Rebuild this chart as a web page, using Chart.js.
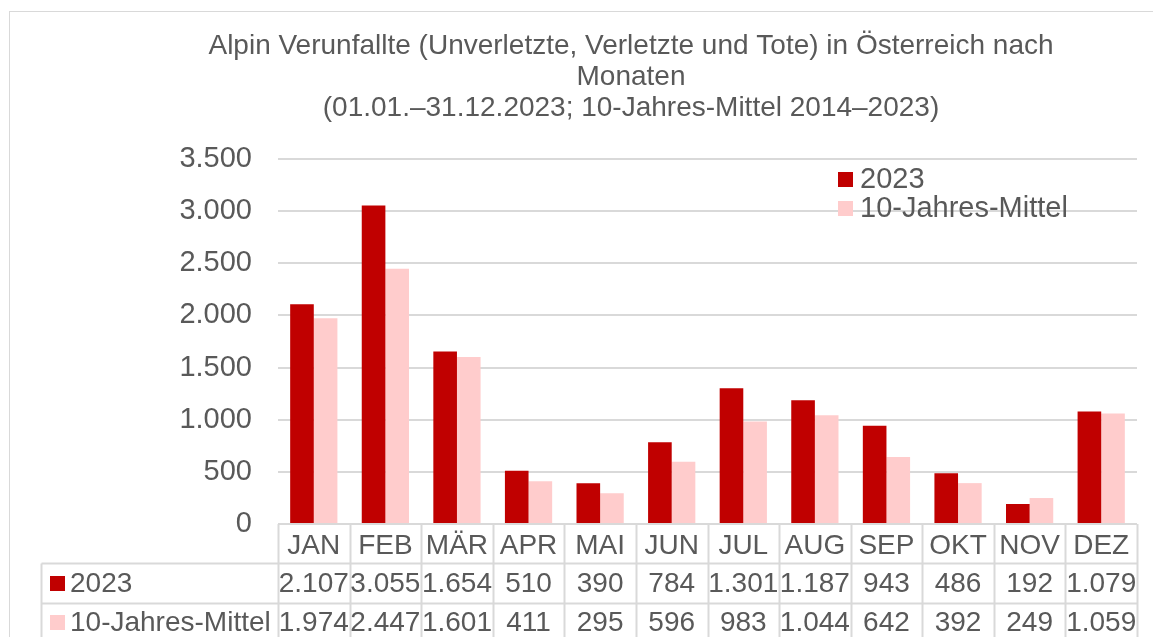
<!DOCTYPE html>
<html>
<head>
<meta charset="utf-8">
<script src="https://cdn.jsdelivr.net/npm/chart.js@4"></script>
<style>
    html, body { margin: 0; padding: 0; background: #fff; }
    #wrap { width: 1153px; height: 637px; }
</style>
</head>
<body>
<div id="wrap"><canvas id="unfallChart" width="1153" height="637"></canvas></div>
<script>
const months = ['JAN', 'FEB', 'MÄR', 'APR', 'MAI', 'JUN', 'JUL', 'AUG', 'SEP', 'OKT', 'NOV', 'DEZ'];
const werte2023 = [2107, 3055, 1654, 510, 390, 784, 1301, 1187, 943, 486, 192, 1079];
const mittel = [1974, 2447, 1601, 411, 295, 596, 983, 1044, 642, 392, 249, 1059];
const yTicks = [0, 500, 1000, 1500, 2000, 2500, 3000, 3500];
const titleLines = [
    'Alpin Verunfallte (Unverletzte, Verletzte und Tote) in Österreich nach',
    'Monaten',
    '(01.01.–31.12.2023; 10-Jahres-Mittel 2014–2023)'
];

const ROT = '#c00000';
const ROSA = '#ffcccc';
const TEXT = '#595959';
const LINIE = '#d9d9d9';
const FONT = '"Liberation Sans", Arial, sans-serif';

const fmt = v => v.toLocaleString('de-DE');

// Titel, Legende, Datentabelle und Rahmen
const extras = {
    id: 'extras',
    afterDraw(chart) {
        const ctx = chart.ctx;
        const area = chart.chartArea;
        const x = chart.scales.x;
        const sets = chart.data.datasets;

        ctx.save();

        // Rahmen
        ctx.strokeStyle = LINIE;
        ctx.lineWidth = 1;
        ctx.strokeRect(9.5, 11.5, 1160, 660);

        // Titel
        ctx.fillStyle = TEXT;
        ctx.font = '28px ' + FONT;
        ctx.textAlign = 'center';
        ctx.textBaseline = 'middle';
        titleLines.forEach((t, i) => ctx.fillText(t, 631, 46 + i * 31));

        // Legende
        ctx.font = '29px ' + FONT;
        ctx.textAlign = 'left';
        sets.forEach((ds, i) => {
            const ly = 180 + i * 29;
            ctx.fillStyle = ds.backgroundColor;
            ctx.fillRect(838, ly - 8, 15, 15);
            ctx.fillStyle = TEXT;
            ctx.fillText(ds.label, 860, ly);
        });

        // Tabelle
        const step = x.getPixelForValue(1) - x.getPixelForValue(0);
        const left = area.left;
        const right = area.right;
        const top = area.bottom;
        const r1 = top + 39.5;
        const r2 = top + 79.5;
        const tabLeft = 41.5;

        ctx.strokeStyle = LINIE;
        ctx.lineWidth = 2;
        ctx.beginPath();
        ctx.moveTo(left, top);
        ctx.lineTo(right, top);
        ctx.moveTo(tabLeft, r1);
        ctx.lineTo(right, r1);
        ctx.moveTo(tabLeft, r2);
        ctx.lineTo(right, r2);
        ctx.moveTo(tabLeft, r1);
        ctx.lineTo(tabLeft, 700);
        for (let i = 0; i <= months.length; i++) {
            const vx = Math.round(x.getPixelForValue(i) - step / 2) + 0.5;
            ctx.moveTo(vx, top);
            ctx.lineTo(vx, 700);
        }
        ctx.stroke();

        ctx.font = '28px ' + FONT;
        ctx.textAlign = 'center';
        months.forEach((m, i) => {
            const cx = x.getPixelForValue(i);
            ctx.fillStyle = TEXT;
            ctx.fillText(m, cx, top + 22);
            sets.forEach((ds, j) => {
                ctx.fillText(fmt(ds.data[i]), cx, top + 60 + j * 39);
            });
        });

        ctx.textAlign = 'left';
        sets.forEach((ds, j) => {
            const ry = top + 60 + j * 39;
            ctx.fillStyle = ds.backgroundColor;
            ctx.fillRect(50, ry - 8, 15, 15);
            ctx.fillStyle = TEXT;
            ctx.fillText(ds.label, 70, ry);
        });

        ctx.restore();
    }
};

new Chart(document.getElementById('unfallChart'), {
    type: 'bar',
    data: {
        labels: months,
        datasets: [
            { label: '2023', data: werte2023, backgroundColor: ROT },
            { label: '10-Jahres-Mittel', data: mittel, backgroundColor: ROSA }
        ]
    },
    options: {
        responsive: false,
        animation: false,
        layout: { padding: { top: 159, left: 178, right: 16, bottom: 105 } },
        datasets: { bar: { categoryPercentage: 0.66, barPercentage: 1 } },
        plugins: {
            legend: { display: false },
            title: { display: false },
            tooltip: { enabled: false }
        },
        scales: {
            x: {
                grid: { display: false },
                border: { display: false },
                ticks: { display: false }
            },
            y: {
                min: 0,
                max: 3500,
                afterFit(scale) { scale.width = 100; },
                afterBuildTicks(scale) { scale.ticks = yTicks.map(v => ({ value: v })); },
                grid: { color: LINIE, lineWidth: 2, drawTicks: false },
                border: { display: false },
                ticks: {
                    color: TEXT,
                    padding: 26,
                    font: { family: FONT, size: 29 },
                    callback: v => fmt(v)
                }
            }
        }
    },
    plugins: [extras]
});
</script>
</body>
</html>
